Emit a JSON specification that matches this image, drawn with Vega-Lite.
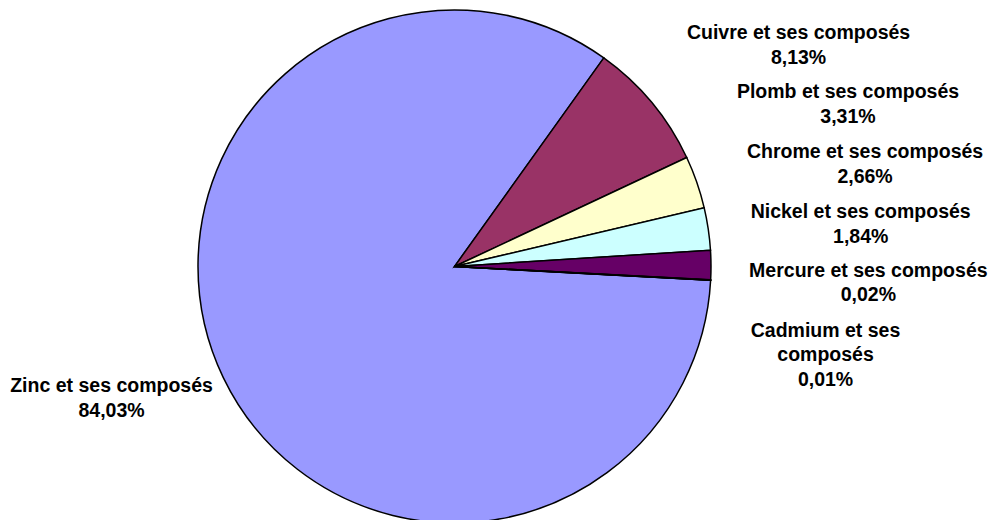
{
  "$schema": "https://vega.github.io/schema/vega-lite/v6.json",
  "width": 909,
  "height": 507,
  "autosize": {"type": "none"},
  "padding": {"left": 0, "top": 13, "right": 88, "bottom": 0},
  "background": "white",
  "config": {"view": {"stroke": null}},
  "data": {
    "values": [
      {"idx": 1, "cat": "Zinc", "label": "Zinc et ses composés\n84,03%", "pct": 84.03},
      {"idx": 2, "cat": "Cuivre", "label": "Cuivre et ses composés\n8,13%", "pct": 8.13},
      {"idx": 3, "cat": "Plomb", "label": "Plomb et ses composés\n3,31%", "pct": 3.31},
      {"idx": 4, "cat": "Chrome", "label": "Chrome et ses composés\n2,66%", "pct": 2.66},
      {"idx": 5, "cat": "Nickel", "label": "Nickel et ses composés\n1,84%", "pct": 1.84},
      {"idx": 6, "cat": "Mercure", "label": "Mercure et ses composés\n0,02%", "pct": 0.02},
      {"idx": 7, "cat": "Cadmium", "label": "Cadmium et ses\ncomposés\n0,01%", "pct": 0.01}
    ]
  },
  "encoding": {
    "theta": {"field": "pct", "type": "quantitative", "stack": true, "scale": {"domain": [0, 100], "range": [1.6247, 7.9079]}},
    "order": {"field": "idx", "type": "quantitative"},
    "detail": {"field": "cat", "type": "nominal"}
  },
  "layer": [
    {
      "mark": {"type": "arc", "radius": 256.5, "stroke": "black", "strokeWidth": 1.5},
      "encoding": {
        "color": {
          "field": "cat", "type": "nominal", "legend": null,
          "scale": {
            "domain": ["Zinc", "Cuivre", "Plomb", "Chrome", "Nickel", "Mercure", "Cadmium"],
            "range": ["#9999FF", "#993366", "#FFFFCC", "#CCFFFF", "#660066", "#FF8080", "#0066CC"]
          }
        }
      }
    },
    {
      "mark": {"type": "text", "radius": 330, "dx": -45.5, "dy": -17, "align": "center", "baseline": "alphabetic", "font": "Liberation Sans", "fontSize": 19.5, "fontWeight": "bold", "lineBreak": "\n", "lineHeight": 24.5, "color": "black"},
      "encoding": {"text": {"condition": {"test": "datum.cat === 'Zinc'", "field": "label", "type": "nominal"}, "value": ""}}
    },
    {
      "mark": {"type": "text", "radius": 330, "dx": 90.4, "dy": -16, "align": "center", "baseline": "alphabetic", "font": "Liberation Sans", "fontSize": 19.5, "fontWeight": "bold", "lineBreak": "\n", "lineHeight": 24.5, "color": "black"},
      "encoding": {"text": {"condition": {"test": "datum.cat === 'Cuivre'", "field": "label", "type": "nominal"}, "value": ""}}
    },
    {
      "mark": {"type": "text", "radius": 330, "dx": 81.8, "dy": -59.8, "align": "center", "baseline": "alphabetic", "font": "Liberation Sans", "fontSize": 19.5, "fontWeight": "bold", "lineBreak": "\n", "lineHeight": 24.5, "color": "black"},
      "encoding": {"text": {"condition": {"test": "datum.cat === 'Plomb'", "field": "label", "type": "nominal"}, "value": ""}}
    },
    {
      "mark": {"type": "text", "radius": 330, "dx": 84.1, "dy": -59.8, "align": "center", "baseline": "alphabetic", "font": "Liberation Sans", "fontSize": 19.5, "fontWeight": "bold", "lineBreak": "\n", "lineHeight": 24.5, "color": "black"},
      "encoding": {"text": {"condition": {"test": "datum.cat === 'Chrome'", "field": "label", "type": "nominal"}, "value": ""}}
    },
    {
      "mark": {"type": "text", "radius": 330, "dx": 76.2, "dy": -46.3, "align": "center", "baseline": "alphabetic", "font": "Liberation Sans", "fontSize": 19.5, "fontWeight": "bold", "lineBreak": "\n", "lineHeight": 24.5, "color": "black"},
      "encoding": {"text": {"condition": {"test": "datum.cat === 'Nickel'", "field": "label", "type": "nominal"}, "value": ""}}
    },
    {
      "mark": {"type": "text", "radius": 330, "dx": 84.3, "dy": -7.2, "align": "center", "baseline": "alphabetic", "font": "Liberation Sans", "fontSize": 19.5, "fontWeight": "bold", "lineBreak": "\n", "lineHeight": 24.5, "color": "black"},
      "encoding": {"text": {"condition": {"test": "datum.cat === 'Mercure'", "field": "label", "type": "nominal"}, "value": ""}}
    },
    {
      "mark": {"type": "text", "radius": 330, "dx": 41.5, "dy": 52.5, "align": "center", "baseline": "alphabetic", "font": "Liberation Sans", "fontSize": 19.5, "fontWeight": "bold", "lineBreak": "\n", "lineHeight": 24.5, "color": "black"},
      "encoding": {"text": {"condition": {"test": "datum.cat === 'Cadmium'", "field": "label", "type": "nominal"}, "value": ""}}
    }
  ]
}
